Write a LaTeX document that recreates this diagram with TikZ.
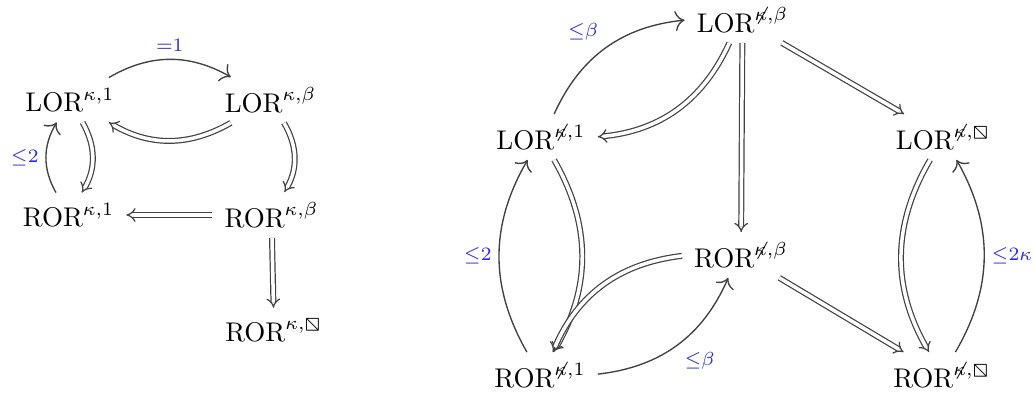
\documentclass[tikz,border=0pt]{standalone}
\usepackage{amsmath,amssymb}
\usepackage{stmaryrd}
\usetikzlibrary{arrows.meta}
\definecolor{lblue}{RGB}{40,40,235}
\definecolor{arr}{RGB}{65,65,65}
\tikzset{
  obj/.style={inner xsep=1ex, inner ysep=0.85ex},
  sgl/.style={draw=arr, line width=0.5pt, -{To[scale=1.3]}},
  dbl/.style={draw=arr, double, double distance=1.3pt, line width=0.45pt, -{Implies[scale=1.35]}},
  lab/.style={text=lblue, inner sep=2.5pt, auto}
}
\newcommand{\bx}{{\boxbslash}}
\newcommand{\nk}{\not\kappa}
\begin{document}
\begin{tikzpicture}[x=0.37pt, y=-0.37pt]
\useasboundingbox (0,0) rectangle (1034,393);
% left diagram
\node[obj] (l1) at (70,100) {$\mathrm{LOR}^{\kappa,1}$};
\node[obj] (lb) at (270.5,100) {$\mathrm{LOR}^{\kappa,\beta}$};
\node[obj] (r1) at (68.5,215) {$\mathrm{ROR}^{\kappa,1}$};
\node[obj] (rb) at (271.5,215) {$\mathrm{ROR}^{\kappa,\beta}$};
\node[obj] (rx) at (274,330) {$\mathrm{ROR}^{\kappa,\bx}$};
\draw[sgl] (l1) to[bend left=30] node[lab] {$\scriptstyle =1$} (lb);
\draw[dbl] (lb) to[bend left=30] (l1);
\draw[dbl] (l1) to[bend left=30] (r1);
\draw[sgl] (r1) to[bend left=30] node[lab] {$\scriptstyle \leq 2$} (l1);
\draw[dbl] (lb) to[bend left=30] (rb);
\draw[dbl] (rb) -- (r1);
\draw[dbl] (rb) -- (rx);
% right diagram
\node[obj] (Lb) at (742.5,20) {$\mathrm{LOR}^{\nk,\beta}$};
\node[obj] (L1) at (541,137) {$\mathrm{LOR}^{\nk,1}$};
\node[obj] (Lx) at (943.5,137) {$\mathrm{LOR}^{\nk,\bx}$};
\node[obj] (Rb) at (741,255) {$\mathrm{ROR}^{\nk,\beta}$};
\node[obj] (R1) at (540,375) {$\mathrm{ROR}^{\nk,1}$};
\node[obj] (Rx) at (942,375) {$\mathrm{ROR}^{\nk,\bx}$};
\draw[sgl] (L1) to[bend left=30] node[lab] {$\scriptstyle \leq\beta$} (Lb);
\draw[dbl] (Lb) to[bend left=30] (L1);
\draw[dbl] (Lb) -- (Rb);
\draw[dbl] (Lb) -- (Lx);
\draw[dbl] (L1) to[bend left=30] (R1);
\draw[sgl] (R1) to[bend left=30] node[lab] {$\scriptstyle \leq 2$} (L1);
\draw[dbl] (Rb) to[bend right=30] (R1);
\draw[sgl] (R1) to[bend right=30] node[lab, swap] {$\scriptstyle \leq\beta$} (Rb);
\draw[dbl] (Rb) -- (Rx);
\draw[dbl] (Lx) to[bend right=30] (Rx);
\draw[sgl] (Rx) to[bend right=30] node[lab, swap] {$\scriptstyle \leq 2\kappa$} (Lx);
\end{tikzpicture}
\end{document}
